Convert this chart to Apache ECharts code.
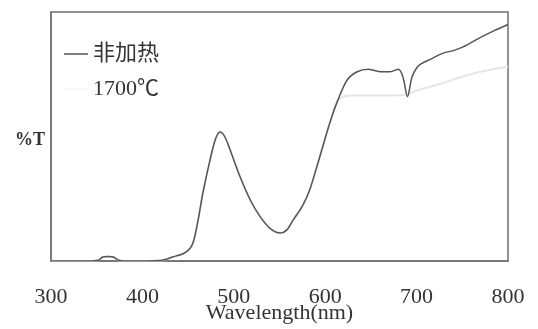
<!DOCTYPE html>
<html>
<head>
<meta charset="utf-8">
<script src="https://cdn.jsdelivr.net/npm/echarts@6/dist/echarts.min.js"></script>
<style>
  html, body { margin: 0; padding: 0; background: #fff; }
  #chart { width: 538px; height: 329px; }
</style>
</head>
<body>
<div id="chart"></div>
<script>
// Transmission spectra (%T vs wavelength)
const xTicks = [300, 400, 500, 600, 700, 800];

const seriesNames = ['非加热', '1700℃'];

// Unheated sample
const wlUnheated = [300, 340, 352, 356, 362, 368, 374, 380, 420, 433, 445, 452, 456, 461, 466, 474, 480, 485, 490, 496, 507, 518, 529, 540, 551, 558, 565, 575, 583, 594, 605, 614, 624, 635, 647, 654, 660, 671, 680, 685, 690, 695, 700, 704, 715, 729, 740, 751, 769, 785, 800];
const tUnheated  = [0, 0, 0.3, 1.5, 1.8, 1.6, 0.3, 0, 0.2, 1.6, 3, 5, 8, 16.5, 27, 40.6, 49, 51.8, 50, 44.6, 33.7, 24.5, 17.7, 13, 11.2, 12.5, 16.5, 22, 28.5, 41.8, 55.4, 64.7, 72.7, 76, 77, 76.5, 76, 76, 77, 74, 66, 74, 77.5, 79, 81, 83.5, 84.5, 86, 89.6, 92.5, 95];

// Sample heated to 1700 °C
const wl1700 = [300, 340, 352, 356, 362, 368, 374, 380, 420, 433, 445, 452, 456, 461, 466, 474, 480, 485, 490, 496, 507, 518, 529, 540, 551, 558, 565, 575, 583, 594, 605, 612, 620, 630, 650, 670, 690, 700, 720, 750, 770, 800];
const t1700  = [0, 0, 0.3, 1.5, 1.8, 1.6, 0.3, 0, 0.2, 1.6, 3, 5, 8, 16.5, 27, 40.6, 49, 51.8, 50, 44.6, 33.7, 24.5, 17.7, 13, 11.2, 12.5, 16.5, 22, 28.5, 41.8, 55.4, 63.5, 66, 66.5, 66.5, 66.5, 67, 68.5, 70.5, 74, 76, 78];

const pairs = (xs, ys) => xs.map((x, i) => [x, ys[i]]);

const serif = '"Liberation Serif", "Noto Sans CJK SC", serif';

const chart = echarts.init(document.getElementById('chart'), null, { renderer: 'canvas' });

chart.setOption({
  backgroundColor: '#ffffff',
  animation: false,
  grid: {
    left: 51, right: 30, top: 12, bottom: 68,
    containLabel: false,
    outerBoundsMode: 'none',
    show: true, borderColor: '#707070', borderWidth: 1.5, backgroundColor: 'transparent'
  },
  legend: {
    orient: 'vertical',
    left: 64, top: 43,
    padding: 0,
    itemGap: 13,
    itemWidth: 24,
    itemHeight: 1.5,
    data: [
      { name: seriesNames[0], icon: 'rect', itemStyle: { color: '#555' } },
      { name: seriesNames[1], icon: 'rect', itemStyle: { color: '#f4f4f4' } }
    ],
    textStyle: {
      fontFamily: serif,
      fontSize: 22,
      color: '#333'
    }
  },
  xAxis: {
    type: 'value',
    min: 300, max: 800, interval: 100,
    name: 'Wavelength(nm)',
    nameLocation: 'middle',
    nameGap: 41,
    nameMoveOverlap: false,
    nameTextStyle: { fontFamily: '"Liberation Serif", serif', fontSize: 22, color: '#333' },
    axisLine: { show: true, lineStyle: { color: '#707070', width: 1.5 } },
    axisTick: { show: false },
    splitLine: { show: false },
    axisLabel: {
      margin: 25,
      fontFamily: '"Liberation Serif", serif',
      fontSize: 22,
      color: '#333',
      formatter: v => (xTicks.includes(v) ? String(v) : '')
    }
  },
  yAxis: {
    type: 'value',
    min: 0, max: 100,
    name: '%T',
    nameLocation: 'middle',
    nameRotate: 0,
    nameGap: 6,
    nameMoveOverlap: false,
    nameTextStyle: {
      fontFamily: '"Liberation Serif", serif', fontSize: 18, fontWeight: 'bold', color: '#333',
      verticalAlign: 'top',
      lineHeight: 8
    },
    axisLine: { show: true, lineStyle: { color: '#707070', width: 1.5 } },
    axisTick: { show: false },
    axisLabel: { show: false },
    splitLine: { show: false }
  },
  series: [
    {
      name: seriesNames[1],
      type: 'line',
      data: pairs(wl1700, t1700),
      smooth: 0.3,
      showSymbol: false,
      lineStyle: { color: '#e6e6e6', width: 2 },
      itemStyle: { color: '#e6e6e6' },
      z: 2
    },
    {
      name: seriesNames[0],
      type: 'line',
      data: pairs(wlUnheated, tUnheated),
      smooth: 0.3,
      showSymbol: false,
      lineStyle: { color: '#555', width: 1.5 },
      itemStyle: { color: '#555' },
      z: 3
    }
  ]
});
</script>
</body>
</html>
